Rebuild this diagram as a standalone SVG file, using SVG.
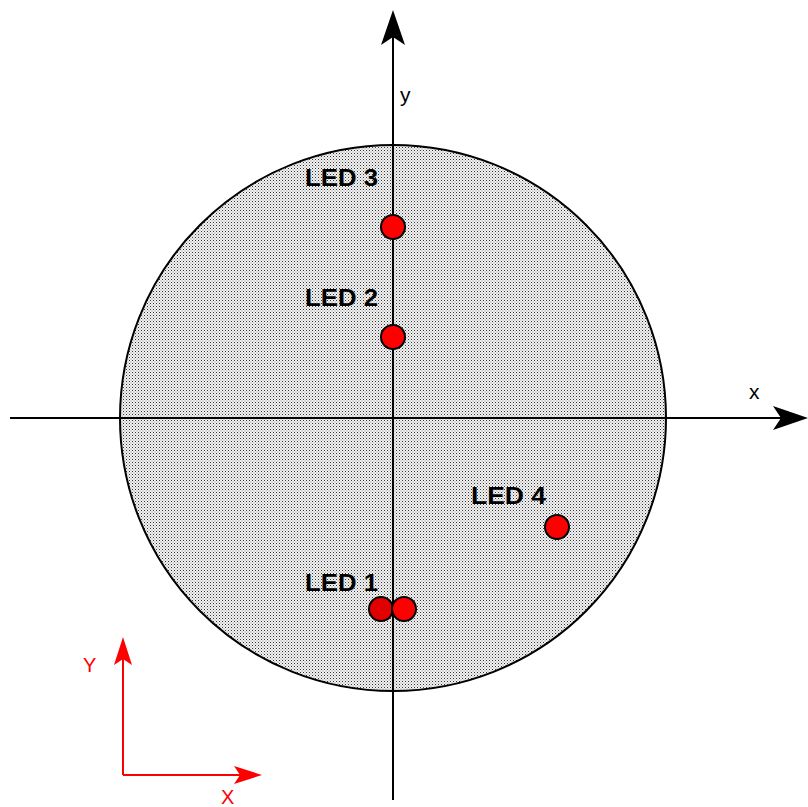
<svg xmlns="http://www.w3.org/2000/svg" width="808" height="807" viewBox="0 0 808 807">
<style>
.axis{stroke:#000;stroke-width:2;fill:none}
.raxis{stroke:#f00;stroke-width:2;fill:none}
.lbl{font-family:"Liberation Sans",Arial,sans-serif;font-size:24px;font-weight:bold;fill:#000}
.ax{font-family:"Liberation Sans",Arial,sans-serif;font-size:21px;fill:#000}
.rax{font-family:"Liberation Sans",Arial,sans-serif;font-size:20px;fill:#f00}
.led{stroke:#000;stroke-width:2}
</style>
<defs>
<pattern id="dots" width="3" height="3" patternUnits="userSpaceOnUse">
<rect width="3" height="3" fill="#f2f2f2"/>
<rect x="0" y="0" width="1" height="1" fill="#333"/>
<rect x="1.5" y="1.5" width="1" height="1" fill="#888"/>
</pattern>
</defs>
<g id="disk">
<circle cx="393" cy="418" r="273" fill="url(#dots)" stroke="#000" stroke-width="2"/>
</g>
<g id="connectors">
<line class="axis" x1="393" y1="800" x2="393" y2="30"/>
<path d="M393 10 L405 45 L393 37 L381 45 Z" fill="#000"/>
<line class="axis" x1="10" y1="418" x2="790" y2="418"/>
<path d="M808 418 L773 430 L781 418 L773 406 Z" fill="#000"/>
<line class="raxis" x1="123" y1="775" x2="123" y2="650"/>
<path d="M123 637 L132 665 L123 659 L114 665 Z" fill="#f00"/>
<line class="raxis" x1="123" y1="775" x2="250" y2="775"/>
<path d="M262 775 L234 784 L240 775 L234 766 Z" fill="#f00"/>
</g>
<g id="labels-axes">
<text class="ax" x="400" y="102">y</text>
<text class="ax" x="749" y="399">x</text>
<text class="rax" x="83" y="672">Y</text>
<text class="rax" x="221" y="804">X</text>
</g>
<g id="led3">
<text class="lbl" x="305" y="186" textLength="73" lengthAdjust="spacingAndGlyphs">LED 3</text>
<circle class="led" cx="393" cy="227" r="12" fill="#f00"/>
</g>
<g id="led2">
<text class="lbl" x="305" y="306" textLength="73" lengthAdjust="spacingAndGlyphs">LED 2</text>
<circle class="led" cx="393" cy="337" r="12" fill="#f00"/>
</g>
<g id="led4">
<text class="lbl" x="471" y="504" textLength="75" lengthAdjust="spacingAndGlyphs">LED 4</text>
<circle class="led" cx="557" cy="527" r="12" fill="#f00"/>
</g>
<g id="led1">
<text class="lbl" x="305" y="591" textLength="73" lengthAdjust="spacingAndGlyphs">LED 1</text>
<circle class="led" cx="381" cy="609" r="12" fill="#e00000"/>
<circle class="led" cx="404" cy="609" r="12" fill="#f00"/>
</g>
</svg>
